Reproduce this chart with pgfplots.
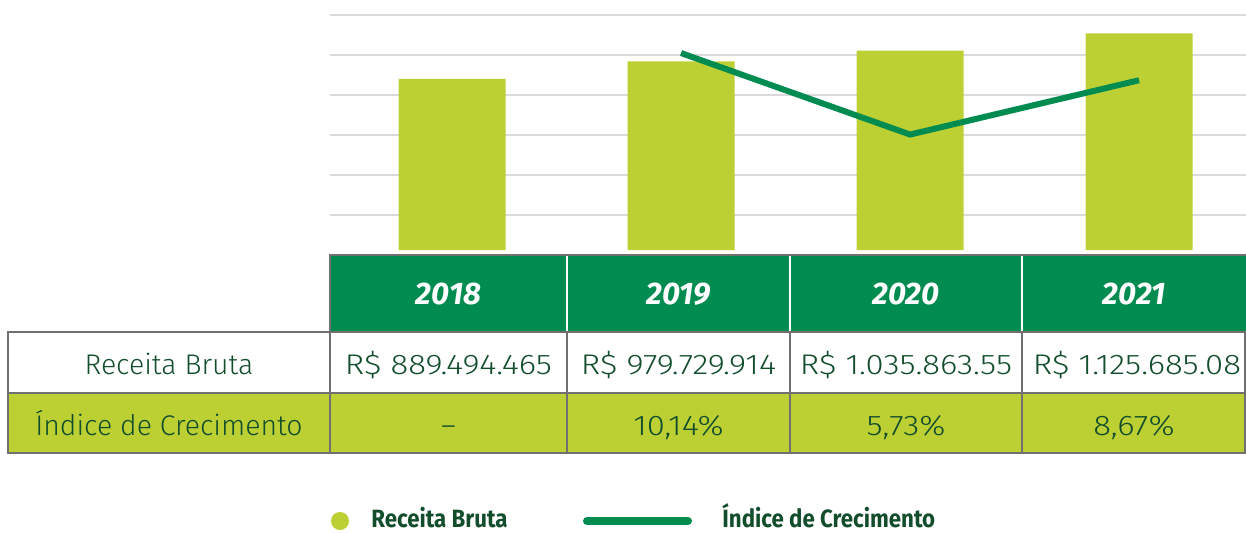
\documentclass[border=0pt]{standalone}
\usepackage{fontspec}
\setmainfont{Fira Sans}[UprightFont=* Light, ItalicFont=* Light Italic, BoldFont=* Bold, BoldItalicFont=* Bold Italic]
\newfontfamily\numfont{Fira Sans}[UprightFont=* Light, FakeStretch=1.16]
\newfontfamily\legfont{Fira Sans}[UprightFont=* Bold, FakeStretch=0.89]
\usepackage{pgfplots}
\pgfplotsset{compat=1.18}

\definecolor{lime}{HTML}{BCD034}
\definecolor{dgreen}{HTML}{008C50}
\definecolor{txt}{HTML}{124D2C}
\definecolor{bord}{HTML}{707070}
\definecolor{gridc}{HTML}{DADADA}

\newcommand{\tbl}{\fontsize{14.2}{16}\selectfont}
\newcommand{\tbn}{\fontsize{14.2}{16}\selectfont\numfont}

\begin{document}
\begin{tikzpicture}
\useasboundingbox (0,0) rectangle (623pt,-266pt);
\clip (0,0) rectangle (623pt,-266pt);

% bars: Receita Bruta (milhoes de R$)
\begin{axis}[
    at={(165pt,-125pt)}, anchor=south west,
    scale only axis, width=458pt, height=117.5pt,
    xmin=-0.533, xmax=3.467,
    ymin=0, ymax=1220.8,
    xtick=\empty,
    ytick={181.8,389.6,597.4,805.2,1013.0,1220.8},
    yticklabels={},
    major tick length=0pt,
    axis line style={draw=none},
    ymajorgrids=true,
    grid style={gridc, line width=0.7pt},
]
\addplot[ybar, bar width=53.5pt, fill=lime, draw=none]
    coordinates {(0,889.494)(1,979.730)(2,1035.864)(3,1125.685)};
\end{axis}

% linha: Indice de Crecimento (%)
\begin{axis}[
    at={(165pt,-127.5pt)}, anchor=south west,
    scale only axis, width=458pt, height=120pt,
    xmin=-0.533, xmax=3.467,
    ymin=-0.79, ymax=12.20,
    hide axis,
]
\addplot[dgreen, line width=3pt]
    coordinates {(1,10.14)(2,5.73)(3,8.67)};
\end{axis}

% tabela
\begin{scope}[x=0.5pt, y=-0.5pt]
\fill[dgreen] (330,255) rectangle (1246,332);
\fill[lime] (8,393) rectangle (1246,453);
\draw[white, line width=1pt] (567,256)--(567,332) (790,256)--(790,332) (1022,256)--(1022,332);
\draw[bord, line width=1pt] (330,332)--(330,255)--(1246,255);
\draw[bord, line width=1.2pt] (8,332) rectangle (1245,453);
\draw[bord, line width=1.2pt] (8,393)--(1246,393)
    (330,332)--(330,453) (567,332)--(567,453) (790,332)--(790,453) (1022,332)--(1022,453);

\foreach \x/\y in {448.5/2018, 678.5/2019, 906/2020, 1134/2021}
    \node[anchor=base, text=white, font=\fontsize{15.6}{18}\selectfont\bfseries\itshape] at (\x,304) {\y};

\node[anchor=base, text=txt, font=\tbl] at (169,374) {Receita Bruta};
\node[anchor=base, text=txt, font=\tbn] at (448.5,374) {R\$ 889.494.465};
\node[anchor=base, text=txt, font=\tbn] at (678.5,374) {R\$ 979.729.914};
\node[anchor=base, text=txt, font=\tbn] at (906,374) {R\$ 1.035.863.55};
\node[anchor=base, text=txt, font=\tbn] at (1137,374) {R\$ 1.125.685.08};

\node[anchor=base, text=txt, font=\tbl] at (169,435) {Índice de Crecimento};
\node[anchor=base, text=txt, font=\tbl] at (448.5,435) {–};
\node[anchor=base, text=txt, font=\tbn] at (678.5,435) {10,14\%};
\node[anchor=base, text=txt, font=\tbn] at (906,435) {5,73\%};
\node[anchor=base, text=txt, font=\tbn] at (1134,435) {8,67\%};

% legenda
\fill[lime] (340,521) circle (9);
\node[anchor=base west, inner sep=0pt, text=txt, font=\fontsize{12.5}{14}\selectfont\legfont] at (371,527) {Receita Bruta};
\draw[dgreen, line width=4pt, line cap=round] (587,521)--(688,521);
\node[anchor=base west, inner sep=0pt, text=txt, font=\fontsize{12.5}{14}\selectfont\legfont] at (722,527) {Índice de Crecimento};
\end{scope}
\end{tikzpicture}
\end{document}
